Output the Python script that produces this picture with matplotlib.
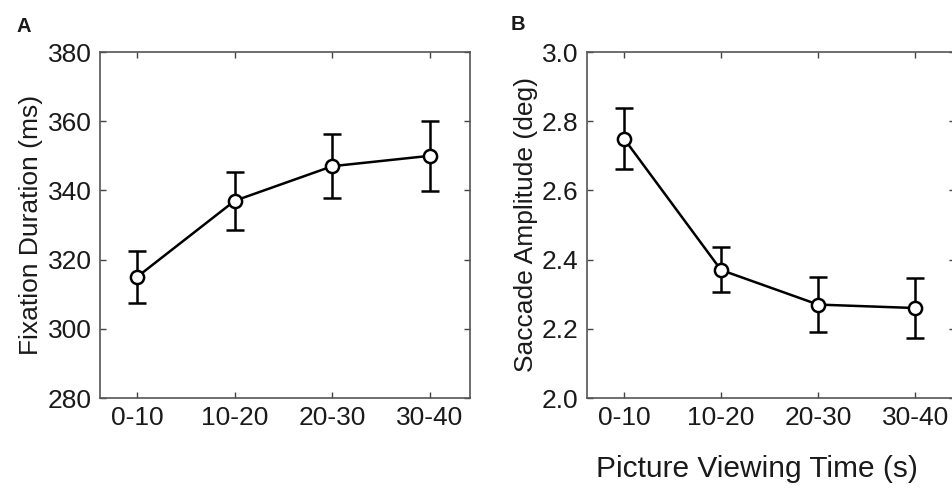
import matplotlib
matplotlib.use("Agg")
from matplotlib import pyplot as plt

# dados
bins = ['0-10', '10-20', '20-30', '30-40']
fix_dur = [315, 337, 347, 350]
fix_err = [7.5, 8.4, 9.2, 10.2]
sac_amp = [2.75, 2.37, 2.27, 2.26]
sac_err = [0.087, 0.065, 0.08, 0.088]

plt.rcParams['font.family'] = ['Liberation Sans', 'DejaVu Sans']
txt = '#1a1a1a'

fig = plt.figure(figsize=(9.53, 4.91), dpi=100)
W, H = 953.0, 491.0

# painel A
axA = fig.add_axes([100 / W, 1 - 398 / H, 370 / W, 346 / H])
# painel B (borda direita cortada pela imagem)
axB = fig.add_axes([587 / W, 1 - 398 / H, 368 / W, 346 / H])

x = [1, 2, 3, 4]
for ax, y, e, lim, ticks, lab in [
        (axA, fix_dur, fix_err, (280, 380), [280, 300, 320, 340, 360, 380], 'Fixation Duration (ms)'),
        (axB, sac_amp, sac_err, (2.0, 3.0), [2.0, 2.2, 2.4, 2.6, 2.8, 3.0], 'Saccade Amplitude (deg)')]:
    ax.errorbar(x, y, yerr=e, color='black', lw=1.8, capsize=6.5, capthick=1.8,
                elinewidth=1.8, marker='o', markersize=9.5, mfc='white', mec='black', mew=1.8)
    ax.set_xlim(0.62, 4.41)
    ax.set_ylim(*lim)
    ax.set_xticks(x)
    ax.set_xticklabels(bins)
    ax.set_yticks(ticks)
    if ax is axB:
        ax.set_yticklabels(['%.1f' % t for t in ticks])
    ax.tick_params(direction='in', length=4, width=1, color='#444', top=True, right=True,
                   labelsize=19, labelcolor=txt, pad=6)
    for s in ax.spines.values():
        s.set_color('#555')
        s.set_linewidth(1.2)
    ax.set_ylabel(lab, fontsize=19, color=txt, labelpad=3)

axB.set_xlabel('Picture Viewing Time (s)', fontsize=21.5, color=txt)
axB.xaxis.set_label_coords(0.462, -0.165)

fig.text(17 / W, 1 - 26 / H, 'A', fontsize=14.5, fontweight='bold', color=txt, va='center')
fig.text(511 / W, 1 - 25 / H, 'B', fontsize=14.5, fontweight='bold', color=txt, va='center')

fig.savefig('out.png', dpi=100)
